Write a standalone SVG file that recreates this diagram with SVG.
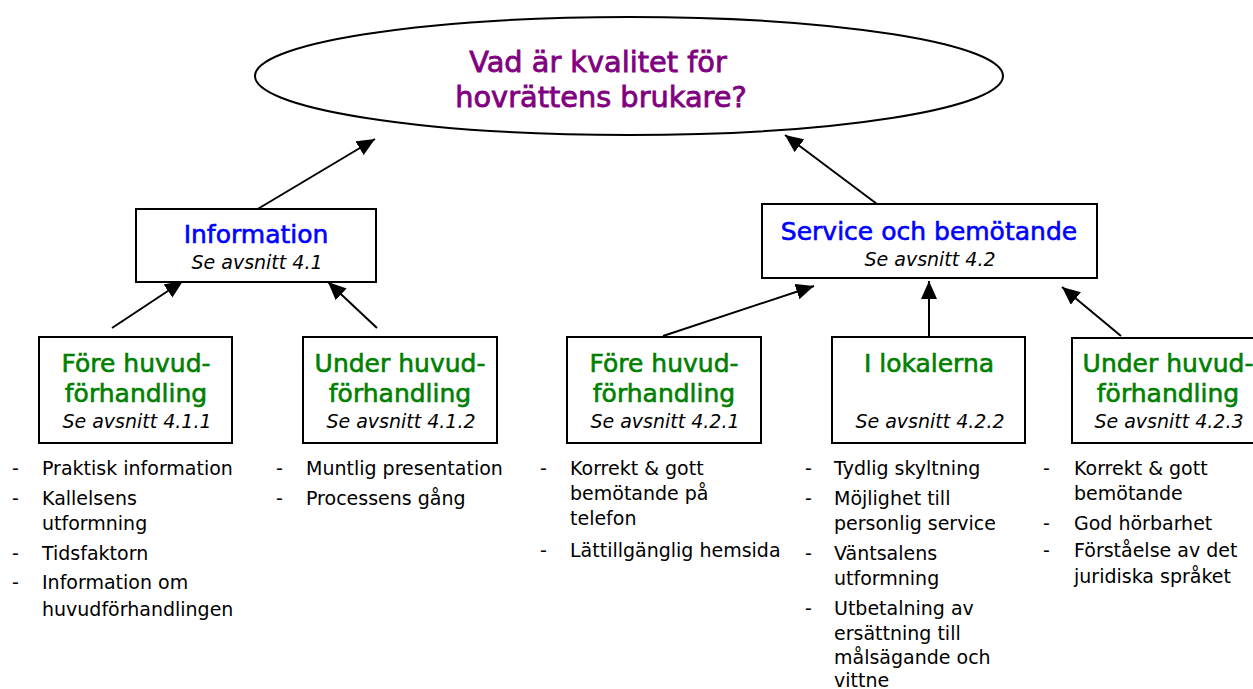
<svg xmlns="http://www.w3.org/2000/svg" width="1253" height="689" viewBox="0 0 1253 689">
<defs>
<style>
text{font-family:"DejaVu Sans","Liberation Sans",sans-serif;}
.title{font-size:28.8px;fill:#800080;stroke:#800080;stroke-width:0.8;text-anchor:middle;}
.blue{font-size:25px;fill:#0000FF;stroke:#0000FF;stroke-width:0.6;text-anchor:middle;}
.green{font-size:25px;fill:#008000;stroke:#008000;stroke-width:0.6;text-anchor:middle;}
.ref{font-size:19px;font-style:italic;fill:#000;text-anchor:middle;}
.li{font-size:19px;fill:#000;}
.box{fill:#fff;stroke:#000;stroke-width:2;}
.conn{stroke:#000;stroke-width:2;fill:none;marker-end:url(#arr);}
</style>
<marker id="arr" markerUnits="userSpaceOnUse" markerWidth="20" markerHeight="16" refX="18" refY="8" orient="auto">
<path d="M0,0 L18,8 L0,16 Z" fill="#000"/>
</marker>
</defs>
<rect width="1253" height="689" fill="#fff"/>
<g id="connectors">
<line class="conn" x1="256" y1="210" x2="375" y2="139"/>
<line class="conn" x1="877" y1="204" x2="785" y2="135"/>
<line class="conn" x1="112" y1="328" x2="183" y2="281"/>
<line class="conn" x1="377" y1="328" x2="328" y2="282"/>
<line class="conn" x1="663" y1="336" x2="814" y2="286"/>
<line class="conn" x1="929" y1="336" x2="929" y2="281"/>
<line class="conn" x1="1121" y1="336" x2="1062" y2="287"/>
</g>
<g id="root">
<ellipse cx="629" cy="76" rx="374" ry="59" fill="#fff" stroke="#000" stroke-width="2"/>
<text class="title" x="598" y="72">Vad är kvalitet för</text>
<text class="title" x="601" y="107">hovrättens brukare?</text>
</g>
<g id="information">
<rect class="box" x="136" y="209" width="240" height="73"/>
<text class="blue" x="256" y="243">Information</text>
<text class="ref" x="257" y="269">Se avsnitt 4.1</text>
</g>
<g id="service">
<rect class="box" x="762" y="204" width="335" height="74"/>
<text class="blue" x="929" y="240">Service och bemötande</text>
<text class="ref" x="930" y="266">Se avsnitt 4.2</text>
</g>
<g id="fore1">
<rect class="box" x="39" y="337" width="193" height="106"/>
<text class="green" x="136" y="372">Före huvud-</text>
<text class="green" x="136" y="402">förhandling</text>
<text class="ref" x="137" y="428">Se avsnitt 4.1.1</text>
<text class="li"><tspan x="12" y="475">-</tspan><tspan x="42" y="475">Praktisk information</tspan><tspan x="12" y="505">-</tspan><tspan x="42" y="505">Kallelsens</tspan><tspan x="42" y="530">utformning</tspan><tspan x="12" y="560">-</tspan><tspan x="42" y="560">Tidsfaktorn</tspan><tspan x="12" y="589">-</tspan><tspan x="42" y="589">Information om</tspan><tspan x="42" y="616">huvudförhandlingen</tspan></text>
</g>
<g id="under1">
<rect class="box" x="303" y="337" width="194" height="106"/>
<text class="green" x="400" y="372">Under huvud-</text>
<text class="green" x="400" y="402">förhandling</text>
<text class="ref" x="401" y="428">Se avsnitt 4.1.2</text>
<text class="li"><tspan x="276" y="475">-</tspan><tspan x="306" y="475">Muntlig presentation</tspan><tspan x="276" y="505">-</tspan><tspan x="306" y="505">Processens gång</tspan></text>
</g>
<g id="fore2">
<rect class="box" x="567" y="337" width="194" height="106"/>
<text class="green" x="664" y="372">Före huvud-</text>
<text class="green" x="664" y="402">förhandling</text>
<text class="ref" x="665" y="428">Se avsnitt 4.2.1</text>
<text class="li"><tspan x="540" y="475">-</tspan><tspan x="570" y="475">Korrekt &amp; gott</tspan><tspan x="570" y="500">bemötande på</tspan><tspan x="570" y="525">telefon</tspan><tspan x="540" y="557">-</tspan><tspan x="570" y="557">Lättillgänglig hemsida</tspan></text>
</g>
<g id="lokalerna">
<rect class="box" x="832" y="337" width="193" height="106"/>
<text class="green" x="929" y="372">I lokalerna</text>
<text class="ref" x="930" y="428">Se avsnitt 4.2.2</text>
<text class="li"><tspan x="805" y="475">-</tspan><tspan x="834" y="475">Tydlig skyltning</tspan><tspan x="805" y="505">-</tspan><tspan x="834" y="505">Möjlighet till</tspan><tspan x="834" y="530">personlig service</tspan><tspan x="805" y="560">-</tspan><tspan x="834" y="560">Väntsalens</tspan><tspan x="834" y="585">utformning</tspan><tspan x="805" y="615">-</tspan><tspan x="834" y="615">Utbetalning av</tspan><tspan x="834" y="640">ersättning till</tspan><tspan x="834" y="664">målsägande och</tspan><tspan x="834" y="687">vittne</tspan></text>
</g>
<g id="under2">
<rect class="box" x="1072" y="338" width="194" height="105"/>
<text class="green" x="1168" y="372">Under huvud-</text>
<text class="green" x="1168" y="402">förhandling</text>
<text class="ref" x="1169" y="428">Se avsnitt 4.2.3</text>
<text class="li"><tspan x="1043" y="475">-</tspan><tspan x="1074" y="475">Korrekt &amp; gott</tspan><tspan x="1074" y="500">bemötande</tspan><tspan x="1043" y="530">-</tspan><tspan x="1074" y="530">God hörbarhet</tspan><tspan x="1043" y="557">-</tspan><tspan x="1074" y="557">Förståelse av det</tspan><tspan x="1074" y="583">juridiska språket</tspan></text>
</g>
</svg>
